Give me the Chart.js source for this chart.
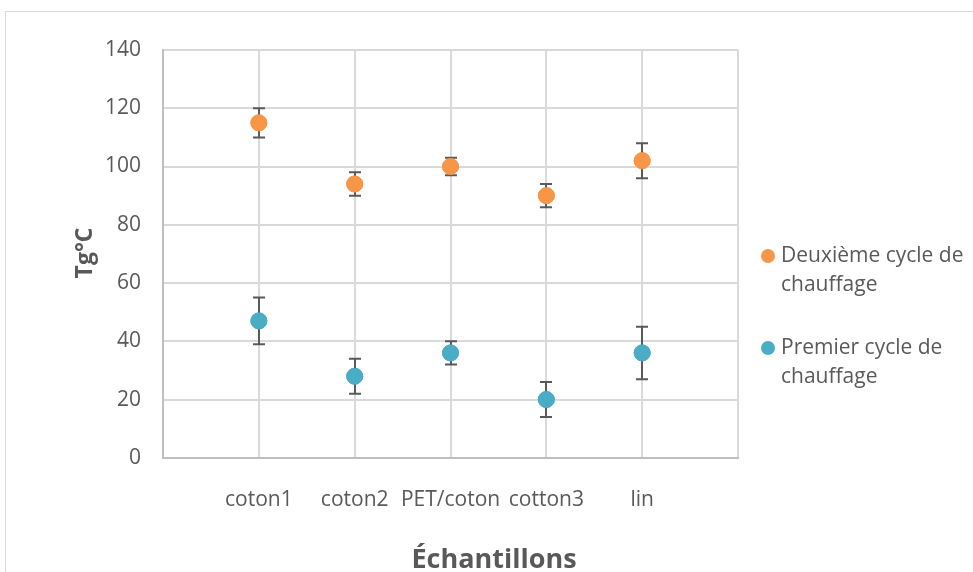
<!DOCTYPE html>
<html>
<head>
<meta charset="utf-8">
<script src="https://cdn.jsdelivr.net/npm/chart.js@4.4.1/dist/chart.umd.min.js"></script>
<style>
  html, body { margin: 0; padding: 0; background: #fff; }
  #wrap { width: 973px; height: 572px; }
</style>
</head>
<body>
<div id="wrap"><canvas id="myChart" width="973" height="572"></canvas></div>
<script>
// données
var categories = ['coton1', 'coton2', 'PET/coton', 'cotton3', 'lin'];
var deuxiemeValues = [115, 94, 100, 90, 102];
var deuxiemeHigh = [120, 98, 103, 94, 108];
var deuxiemeLow = [110, 90, 97, 86, 96];
var premierValues = [47, 28, 36, 20, 36];
var premierHigh = [55, 34, 40, 26, 45];
var premierLow = [39, 22, 32, 14, 27];
var yTicks = [0, 20, 40, 60, 80, 100, 120, 140];

function toPoints(values, high, low) {
	return values.map(function (v, i) {
		return { x: i + 1, y: v, yMax: high[i], yMin: low[i] };
	});
}

Chart.defaults.font.family = "'Open Sans', sans-serif";
Chart.defaults.color = '#595959';

// cadre gris autour du graphique
var frame = {
	id: 'frame',
	beforeDraw: function (chart) {
		var c = chart.ctx;
		c.save();
		c.strokeStyle = '#d9d9d9';
		c.lineWidth = 1;
		c.strokeRect(5.5, 11.5, 1000, 600);
		c.restore();
	}
};

// barres d'erreur
var errorBars = {
	id: 'errorBars',
	afterDatasetsDraw: function (chart) {
		var c = chart.ctx;
		var yScale = chart.scales.y;
		c.save();
		c.strokeStyle = '#595959';
		c.lineWidth = 2;
		chart.data.datasets.forEach(function (ds, di) {
			var meta = chart.getDatasetMeta(di);
			meta.data.forEach(function (pt, i) {
				var x = Math.round(pt.x);
				var yTop = yScale.getPixelForValue(ds.data[i].yMax);
				var yBot = yScale.getPixelForValue(ds.data[i].yMin);
				c.beginPath();
				c.moveTo(x, yTop); c.lineTo(x, yBot);
				c.moveTo(x - 6, yTop); c.lineTo(x + 6, yTop);
				c.moveTo(x - 6, yBot); c.lineTo(x + 6, yBot);
				c.stroke();
			});
		});
		c.restore();
		// points redessinés par-dessus
		chart.data.datasets.forEach(function (ds, di) {
			chart.getDatasetMeta(di).data.forEach(function (pt) {
				pt.draw(c, chart.chartArea);
			});
		});
	}
};

// titres des axes et légende sur deux lignes à droite
var labelsPlugin = {
	id: 'labelsPlugin',
	afterDraw: function (chart) {
		var c = chart.ctx;
		var lines = [['Deuxième cycle de', 'chauffage'], ['Premier cycle de', 'chauffage']];
		var tops = [256, 348];
		c.save();
		c.fillStyle = '#595959';
		c.textAlign = 'center';
		c.textBaseline = 'middle';
		c.font = "bold 27px 'Open Sans', sans-serif";
		c.fillText('Échantillons', 494, 560);
		c.save();
		c.translate(85, 253);
		c.rotate(-Math.PI / 2);
		c.font = "bold 23px 'Open Sans', sans-serif";
		c.fillText('Tg°C', 0, 0);
		c.restore();
		c.textAlign = 'left';
		c.font = "21px 'Open Sans', sans-serif";
		chart.data.datasets.forEach(function (ds, di) {
			c.beginPath();
			c.arc(768, tops[di], 7, 0, Math.PI * 2);
			c.fillStyle = ds.backgroundColor;
			c.fill();
			c.fillStyle = '#595959';
			c.fillText(lines[di][0], 781, tops[di]);
			c.fillText(lines[di][1], 781, tops[di] + 29);
		});
		c.restore();
	}
};

var ctx = document.getElementById('myChart');
var myChart = new Chart(ctx, {
	type: 'scatter',
	data: {
		datasets: [{
			label: 'Deuxième cycle de chauffage',
			data: toPoints(deuxiemeValues, deuxiemeHigh, deuxiemeLow),
			backgroundColor: '#f79646',
			borderColor: '#f79646',
			pointRadius: 8,
			pointHoverRadius: 8
		}, {
			label: 'Premier cycle de chauffage',
			data: toPoints(premierValues, premierHigh, premierLow),
			backgroundColor: '#4bacc6',
			borderColor: '#4bacc6',
			pointRadius: 8,
			pointHoverRadius: 8
		}]
	},
	options: {
		responsive: false,
		animation: false,
		events: [],
		layout: { padding: { left: 83, right: 235, top: 50, bottom: 29 } },
		plugins: {
			legend: { display: false },
			tooltip: { enabled: false }
		},
		scales: {
			x: {
				type: 'linear',
				min: 0,
				max: 6,
				afterBuildTicks: function (axis) {
					axis.ticks = [0, 1, 2, 3, 4, 5, 6].map(function (v) { return { value: v }; });
				},
				ticks: {
					autoSkip: false,
					maxRotation: 0,
					padding: 30,
					font: { size: 21 },
					callback: function (v) { return categories[v - 1] || ''; }
				},
				grid: { color: '#d9d9d9', lineWidth: 2, drawTicks: false },
				border: { color: '#bfbfbf', width: 2 }
			},
			y: {
				min: 0,
				max: 140,
				afterBuildTicks: function (axis) {
					axis.ticks = yTicks.map(function (v) { return { value: v }; });
				},
				ticks: { padding: 22, font: { size: 21 } },
				grid: { color: '#d9d9d9', lineWidth: 2, drawTicks: false },
				border: { color: '#bfbfbf', width: 2 }
			}
		}
	},
	plugins: [frame, errorBars, labelsPlugin]
});
</script>
</body>
</html>
